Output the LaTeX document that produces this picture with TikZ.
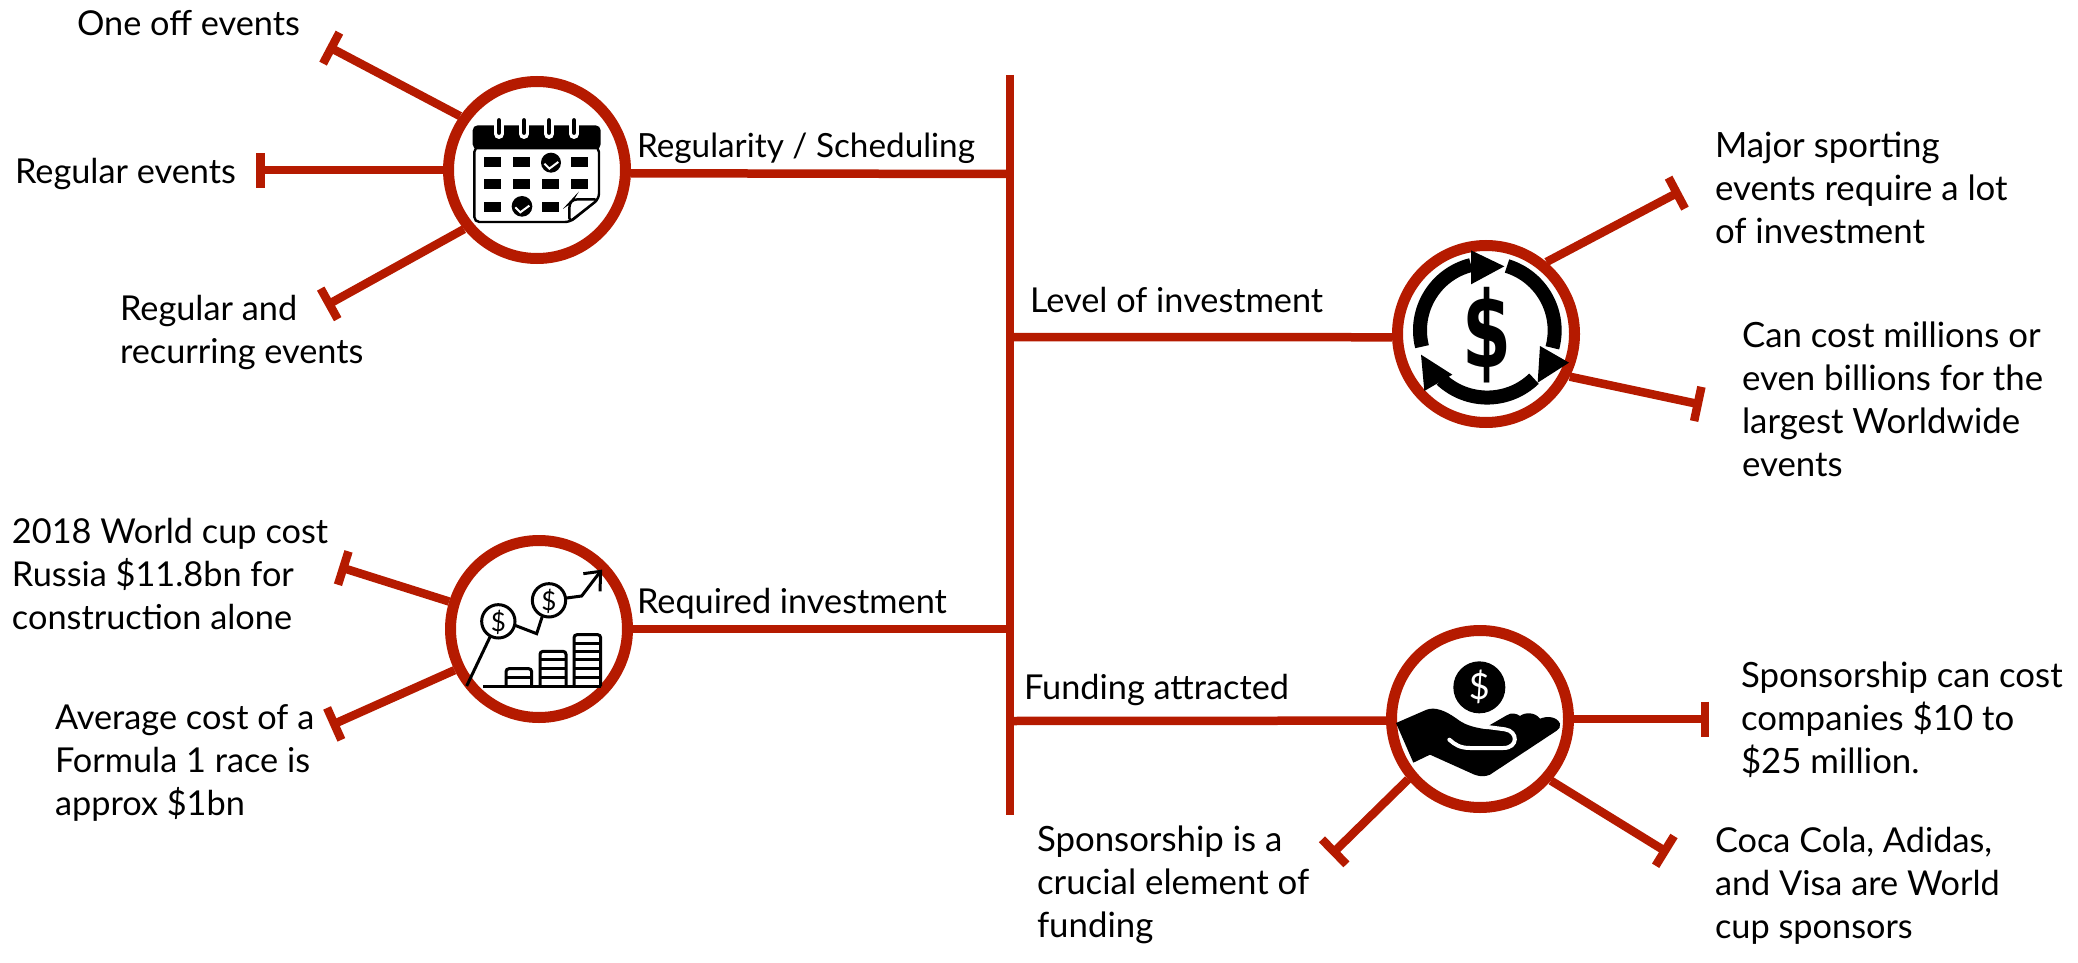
\documentclass[tikz,border=0pt]{standalone}
\usepackage{fontspec}
\setmainfont{Lato}
\newfontfamily\heavydollar{DejaVu Sans}
\usetikzlibrary{arrows.meta}
\definecolor{brick}{HTML}{B51A00}
\tikzset{
  txt/.style={anchor=base west,inner sep=0pt,outer sep=0pt,align=left,text=black,font=\fontsize{34.3}{43}\selectfont},
  wide/.style={font=\fontsize{34.8}{43}\selectfont},
  ring/.style={circle,draw=brick,line width=11pt,fill=white,minimum size=177pt,inner sep=0pt},
  link/.style={draw=brick,line width=8.5pt},
  tee/.style={draw=brick,line width=8.5pt,-{Bar[width=35pt,line width=8.5pt]},shorten >=-4pt},
  ico/.style={x=0.33333pt,y=-0.33333pt},
}
\begin{document}
\begin{tikzpicture}[x=1pt,y=-1pt]
\useasboundingbox (0,-2) rectangle (2078,961);
% rings
\node[ring] (c1) at (537,168) {};
\node[ring] (c2) at (1486,332) {};
\node[ring] (c3) at (539,627) {};
\node[ring] (c4) at (1480,717) {};
% spine
\coordinate (top) at (1010,73);
\coordinate (bot) at (1010,813);
\coordinate (s1) at (1010,172);
\coordinate (s2) at (1010,335);
\coordinate (s3) at (1010,627);
\coordinate (s4) at (1010,719);
\draw[link] (top) -- (bot);
\draw[link] (c1.-2.4) -- (s1);
\draw[link] (c2.182) -- (s2);
\draw[link] (c3.0) -- (s3);
\draw[link] (c4.181) -- (s4);
% tee ends
\coordinate (t1) at (331,46);
\coordinate (t2) at (260,168);
\coordinate (t3) at (329,302);
\coordinate (t4) at (343,566);
\coordinate (t5) at (334,722);
\coordinate (t6) at (1677,191);
\coordinate (t7) at (1698,402);
\coordinate (t8) at (1705,717);
\coordinate (t9) at (1665,849);
\coordinate (t10) at (1334,850);
\draw[tee] (c1.145.5) -- (t1);
\draw[tee] (c1.180) -- (t2);
\draw[tee] (c1.219.3) -- (t3);
\draw[tee] (c3.163) -- (t4);
\draw[tee] (c3.206.6) -- (t5);
\draw[tee] (c2.50) -- (t6);
\draw[tee] (c2.-27) -- (t7);
\draw[tee] (c4.0) -- (t8);
\draw[tee] (c4.-41) -- (t9);
\draw[tee] (c4.220) -- (t10);
% labels
\node[txt] (l1) at (77,34) {One off events};
\node[txt] (l2) at (15,181) {Regular events};
\node[txt] (l3) at (120,361) {Regular and\\recurring events};
\node[txt] (l4) at (12,627) {2018 World cup cost\\Russia \$11.8bn for\\construction alone};
\node[txt] (l5) at (55,813) {Average cost of a\\Formula 1 race is\\approx \$1bn};
\node[txt,wide] (l6) at (1715,241) {Major sporting\\events require a lot\\of investment};
\node[txt,wide] (l7) at (1742,474) {Can cost millions or\\even billions for the\\largest Worldwide\\events};
\node[txt,wide] (l8) at (1741,771) {Sponsorship can cost\\companies \$10 to\\\$25 million.};
\node[txt] (l9) at (1715,936) {Coca Cola, Adidas,\\and Visa are World\\cup sponsors};
\node[txt,wide] (l10) at (1037,935) {Sponsorship is a\\crucial element of\\funding};
\node[txt,font=\fontsize{33.3}{43}\selectfont] (l11) at (637,155) {Regularity / Scheduling};
\node[txt] (l12) at (1030,310) {Level of investment};
\node[txt] (l13) at (637,611) {Required investment};
\node[txt] (l14) at (1024,697) {Funding attracted};
% calendar icon
\begin{scope}[shift={(430,50)},ico]
  \draw[black,line width=2.4pt,rounded corners=5pt,fill=white] (133,285) -- (133,510) -- (420,510) -- (507,440) -- (507,285) -- cycle;
  \fill[black,rounded corners=5pt] (128,292) -- (128,220) -- (512,220) -- (512,292) -- cycle;
  \foreach \x in {207,282,357,432}{
    \draw[white,line width=10pt,line cap=round] (\x,215) -- (\x,246);
    \draw[black,line width=4.5pt,line cap=round] (\x,205) -- (\x,242);
  }
  \foreach \x/\y in {163/315,250/315,424/315,163/382,250/382,337/382,424/382,163/450,337/450}
    \fill[black] (\x,\y) rectangle +(50,30);
  \fill[black] (363,332) circle[radius=30];
  \fill[black] (276,463) circle[radius=31];
  \draw[white,line width=2pt] (343,335) -- (358,350) -- (385,330);
  \draw[white,line width=2pt] (256,466) -- (271,481) -- (298,461);
  \draw[black,line width=2.4pt,fill=white,rounded corners=4pt] (418,510) -- (418,455) -- (430,442) -- (505,442) -- cycle;
\end{scope}
% dollar cycle icon
\begin{scope}[shift={(1370,220)},ico]
  \draw[black,line width=14pt] (156,374) arc[start angle=166,end angle=256,radius=202];
  \fill[black] (303,85) -- (403,133) -- (303,187) -- cycle;
  \draw[black,line width=14pt] (411,132) arc[start angle=287,end angle=375,radius=202];
  \fill[black] (510,372) -- (597,422) -- (503,482) -- cycle;
  \draw[black,line width=14pt] (492,470) arc[start angle=46,end angle=133,radius=202];
  \fill[black] (153,398) -- (247,458) -- (163,507) -- cycle;
  \node[inner sep=0pt,font=\fontsize{88}{88}\selectfont\heavydollar\bfseries] (dl) at (352,338) {\scalebox{.8}[1.2]{\$}};
\end{scope}
% chart icon
\begin{scope}[shift={(430,520)},ico]
  \draw[black,line width=3pt] (110,492) -- (180,345);
  \draw[black,line width=3pt] (205,298) circle[radius=50];
  \draw[black,line width=3pt] (255,310) -- (320,335) -- (337,283);
  \draw[black,line width=3pt] (357,235) circle[radius=50];
  \draw[black,line width=3pt] (410,228) -- (455,222) -- (510,150);
  \draw[black,line width=3pt] (460,155) -- (512,148) -- (510,208);
  \draw[black,line width=3pt] (160,493) -- (513,493);
  \node[inner sep=0pt,font=\fontsize{26}{26}\selectfont] (d1) at (205,300) {\$};
  \node[inner sep=0pt,font=\fontsize{26}{26}\selectfont] (d2) at (357,237) {\$};
  \foreach \l/\r/\t in {228/305/440,330/408/388,432/512/338}
    \draw[black,line width=3pt,rounded corners=3pt] (\l,493) -- (\l,\t) -- (\r,\t) -- (\r,493);
  \foreach \l/\r/\y in {228/305/465,330/408/413,330/408/440,330/408/465,432/512/363,432/512/388,432/512/413,432/512/440,432/512/465}
    \draw[black,line width=3pt] (\l,\y) -- (\r,\y);
\end{scope}
% hand icon
\begin{scope}[shift={(1370,610)},ico]
  \fill[black] (328,226) circle[radius=78];
  \node[inner sep=0pt,text=white,font=\fontsize{36}{36}\selectfont] (d3) at (328,225) {\$};
  \fill[black] (78,333) -- (170,293) .. controls (195,284) and (225,295) .. (260,320)
    .. controls (280,335) and (300,345) .. (350,352) -- (358,340) -- (410,310)
    .. controls (425,300) and (440,305) .. (450,312) .. controls (465,300) and (495,300) .. (510,320)
    .. controls (530,312) and (560,312) .. (570,335) .. controls (572,345) and (568,350) .. (560,356)
    -- (360,488) .. controls (345,495) and (325,495) .. (300,482) -- (180,428) -- (130,452) -- cycle;
  \draw[white,line width=4pt,line cap=round] (352,345) -- (405,352) .. controls (445,358) and (445,408) .. (400,408)
    -- (300,408) .. controls (270,408) and (255,398) .. (238,383);
\end{scope}
\end{tikzpicture}
\end{document}
